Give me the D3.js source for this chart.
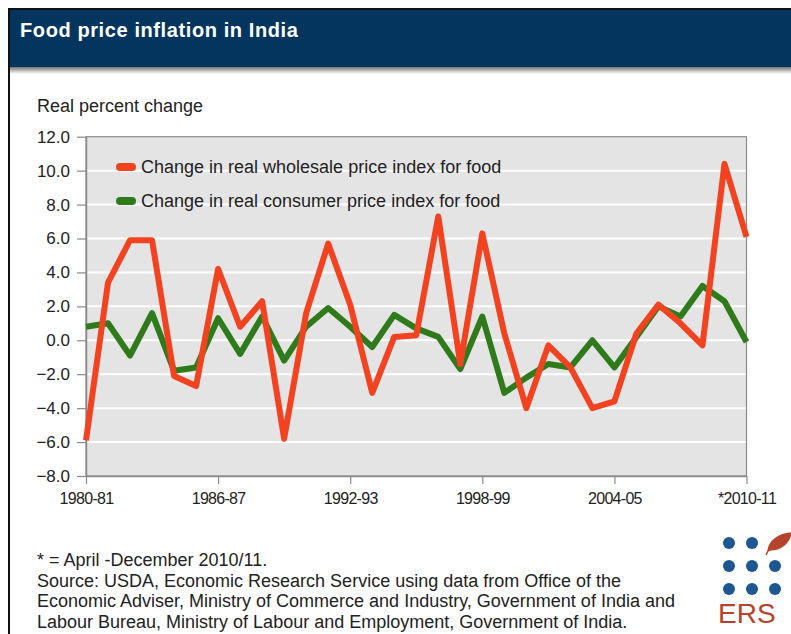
<!DOCTYPE html>
<html>
<head>
<meta charset="utf-8">
<script src="https://cdn.jsdelivr.net/npm/d3@7"></script>
<style>
  body { margin: 0; background: #fff; }
  svg { display: block; font-family: "Liberation Sans", Arial, sans-serif; }
</style>
</head>
<body>
<div id="chart"></div>
<script>
// fiscal years, 1980-81 .. 2010-11 (last one is April-December only)
var years = ["1980-81","1981-82","1982-83","1983-84","1984-85","1985-86","1986-87","1987-88",
             "1988-89","1989-90","1990-91","1991-92","1992-93","1993-94","1994-95","1995-96",
             "1996-97","1997-98","1998-99","1999-00","2000-01","2001-02","2002-03","2003-04",
             "2004-05","2005-06","2006-07","2007-08","2008-09","2009-10","*2010-11"];

var wholesale = [-5.9, 3.4, 5.9, 5.9, -2.1, -2.7, 4.2, 0.8, 2.3, -5.8, 1.6, 5.7, 2.1, -3.1, 0.2, 0.3,
                 7.3, -1.4, 6.3, 0.4, -4.0, -0.3, -1.6, -4.0, -3.6, 0.4, 2.1, 1.0, -0.3, 10.4, 6.1];

var consumer = [0.8, 1.0, -0.9, 1.6, -1.8, -1.6, 1.3, -0.8, 1.4, -1.2, 0.8, 1.9, 0.8, -0.4, 1.5, 0.7,
                0.2, -1.7, 1.4, -3.1, -2.2, -1.4, -1.6, 0.0, -1.6, 0.2, 2.0, 1.4, 3.2, 2.3, -0.1];

var yTicks = [-8, -6, -4, -2, 0, 2, 4, 6, 8, 10, 12];
var xTickYears = ["1980-81", "1986-87", "1992-93", "1998-99", "2004-05", "*2010-11"];

var seriesNames = ["Change in real wholesale price index for food",
                   "Change in real consumer price index for food"];

var color = { "wholesale": "#f3421f",
              "consumer": "#2f7b1b" };

var W = 791, H = 634;

var svg = d3.select("#chart").append("svg")
    .attr("width", W)
    .attr("height", H);

// frame + header
svg.append("rect")
    .attr("x", 9).attr("y", 9)
    .attr("width", W).attr("height", H)
    .attr("fill", "#fff")
    .attr("stroke", "#111")
    .attr("stroke-width", 2);

var grad = svg.append("defs").append("linearGradient")
    .attr("id", "shadow")
    .attr("x1", 0).attr("y1", 0).attr("x2", 0).attr("y2", 1);
grad.append("stop").attr("offset", "0%").attr("stop-color", "#777");
grad.append("stop").attr("offset", "100%").attr("stop-color", "#fff");

svg.append("rect")
    .attr("x", 10).attr("y", 67)
    .attr("width", W).attr("height", 7)
    .attr("fill", "url(#shadow)");

svg.append("rect")
    .attr("x", 10).attr("y", 10)
    .attr("width", W).attr("height", 57)
    .attr("fill", "#04355f");

svg.append("text")
    .attr("x", 20).attr("y", 37)
    .attr("fill", "#fff")
    .style("font-size", "20px")
    .style("font-weight", "bold")
    .style("letter-spacing", "0.6px")
    .text("Food price inflation in India");

svg.append("text")
    .attr("x", 37).attr("y", 112)
    .attr("fill", "#222")
    .style("font-size", "18px")
    .text("Real percent change");

// plot area
var x = d3.scaleLinear()
    .domain([0, years.length - 1])
    .range([86, 746.5]);

var y = d3.scaleLinear()
    .domain([-8, 12])
    .range([476, 136.7]);

svg.append("rect")
    .attr("x", x.range()[0]).attr("y", y(12))
    .attr("width", x.range()[1] - x.range()[0])
    .attr("height", y(-8) - y(12))
    .attr("fill", "#e4e4e4")
    .attr("stroke", "#8a8a8a")
    .attr("stroke-width", 1.2);

svg.append("g")
    .selectAll("line")
    .data(yTicks.filter(function(d) { return d > -8 && d < 12; }))
    .enter().append("line")
    .attr("x1", x.range()[0] + 1)
    .attr("x2", x.range()[1] - 1)
    .attr("y1", function(d) { return y(d); })
    .attr("y2", function(d) { return y(d); })
    .attr("stroke", "#fff")
    .attr("stroke-width", 2);

var yAxis = svg.append("g")
    .attr("transform", "translate(" + x.range()[0] + ",0)")
    .call(d3.axisLeft(y)
      .tickValues(yTicks)
      .tickFormat(d3.format(".1f"))
      .tickSize(9)
      .tickSizeOuter(0)
      .tickPadding(7));

var xAxis = svg.append("g")
    .attr("transform", "translate(0," + y(-8) + ")")
    .call(d3.axisBottom(x)
      .tickValues(xTickYears.map(function(d) { return years.indexOf(d); }))
      .tickFormat(function(i) { return years[i]; })
      .tickSize(8)
      .tickSizeOuter(0)
      .tickPadding(9));

[yAxis, xAxis].forEach(function(a) {
  a.select(".domain").attr("stroke", "#8a8a8a").attr("stroke-width", 1.5);
  a.selectAll(".tick line").attr("stroke", "#8a8a8a").attr("stroke-width", 1.2);
  a.selectAll(".tick text")
    .attr("fill", "#222")
    .style("font-family", "'Liberation Sans', Arial, sans-serif");
});
yAxis.selectAll(".tick text").style("font-size", "17px");
xAxis.selectAll(".tick text").style("font-size", "16px").style("letter-spacing", "-0.7px");

// the two series
var line = d3.line()
    .x(function(d, i) { return x(i); })
    .y(function(d) { return y(d); });

[["consumer", consumer], ["wholesale", wholesale]].forEach(function(s) {
  svg.append("path")
      .datum(s[1])
      .attr("d", line)
      .attr("fill", "none")
      .attr("stroke", color[s[0]])
      .attr("stroke-width", 6)
      .attr("stroke-linejoin", "round")
      .attr("stroke-linecap", "butt");
});

// legend
var legend = svg.append("g")
    .selectAll("g")
    .data([["wholesale", seriesNames[0]], ["consumer", seriesNames[1]]])
    .enter().append("g")
    .attr("transform", function(d, i) { return "translate(120," + (167 + i * 34) + ")"; });

legend.append("line")
    .attr("x1", 0).attr("x2", 12)
    .attr("stroke", function(d) { return color[d[0]]; })
    .attr("stroke-width", 8)
    .attr("stroke-linecap", "round");

legend.append("text")
    .attr("x", 21)
    .attr("dy", "0.35em")
    .attr("fill", "#222")
    .style("font-size", "18px")
    .text(function(d) { return d[1]; });

// footnote + source
var notes = ["* = April -December 2010/11.",
             "Source: USDA, Economic Research Service using data from Office of the",
             "Economic Adviser, Ministry of Commerce and Industry, Government of India and",
             "Labour Bureau, Ministry of Labour and Employment, Government of India."];

svg.append("g")
    .selectAll("text")
    .data(notes)
    .enter().append("text")
    .attr("x", 37)
    .attr("y", function(d, i) { return 566 + i * 20.5; })
    .attr("fill", "#222")
    .style("font-size", "18px")
    .text(function(d) { return d; });

// ERS logo
var logo = svg.append("g").attr("transform", "translate(729,543)");
var dots = [[0,0],[1,0],[0,1],[1,1],[2,1],[0,2],[1,2],[2,2]];
logo.selectAll("circle")
    .data(dots)
    .enter().append("circle")
    .attr("cx", function(d) { return d[0] * 23; })
    .attr("cy", function(d) { return d[1] * 23; })
    .attr("r", 6)
    .attr("fill", "#1d5690");

logo.append("path")
    .attr("d", "M39,8 C40,-2 50,-9 62,-10 C60,0 52,7 41,7 Z M39,8 L37,12")
    .attr("fill", "#b4452c")
    .attr("stroke", "#b4452c")
    .attr("stroke-width", 1.5);

logo.append("text")
    .attr("x", -11).attr("y", 80)
    .attr("fill", "#b4452c")
    .style("font-size", "28px")
    .text("ERS");
</script>
</body>
</html>
